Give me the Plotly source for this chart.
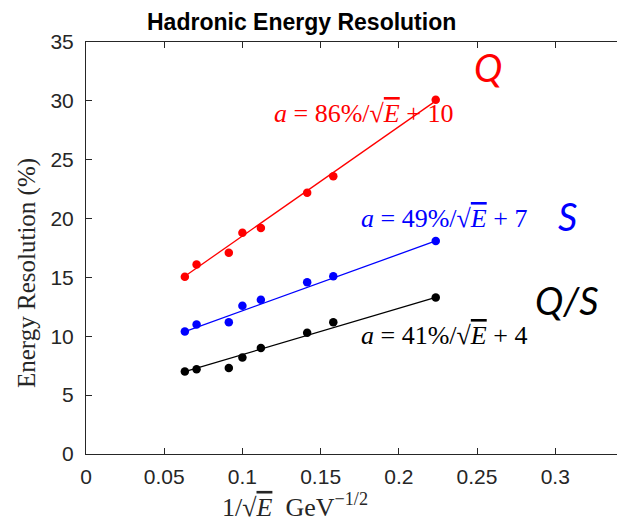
import plotly.graph_objects as go

# ---- data ----
inv_sqrt_e = [0.0632, 0.0707, 0.0913, 0.1, 0.1118, 0.1414, 0.1581, 0.2236]
res_q = [15.05, 16.1, 17.1, 18.8, 19.2, 22.2, 23.6, 30.1]
res_s = [10.4, 11.0, 11.2, 12.6, 13.1, 14.6, 15.1, 18.1]
res_qs = [7.0, 7.2, 7.3, 8.2, 9.0, 10.3, 11.2, 13.3]

fit_x = [0.0632, 0.2236]
fit_q = [15.1, 30.0]
fit_s = [10.4, 18.1]
fit_qs = [7.0, 13.3]

x_ticks = [0, 0.05, 0.1, 0.15, 0.2, 0.25, 0.3]
y_ticks = [0, 5, 10, 15, 20, 25, 30, 35]

series = [
    ("Q", res_q, fit_q, "#ff0000"),
    ("S", res_s, fit_s, "#0000ff"),
    ("Q/S", res_qs, fit_qs, "#000000"),
]

fig = go.Figure()
for name, ys, fy, col in series:
    fig.add_trace(go.Scatter(x=fit_x, y=fy, mode="lines",
                             line=dict(color=col, width=1.3), showlegend=False,
                             hoverinfo="skip"))
    fig.add_trace(go.Scatter(x=inv_sqrt_e, y=ys, mode="markers",
                             marker=dict(color=col, size=8.5), name=name,
                             showlegend=False))

# page body has an 8px margin; compensate so the plot lands where the reference has it
OFF = 8
W, H = 625 - OFF, 521 - OFF
L, R, T, B = 86 - OFF, 0, 42 - OFF, 521 - 454
pw, ph = W - L - R, H - T - B

def px(x):
    return (x - OFF - L) / pw

def py(y):
    return (454 - y) / ph

axis_font = dict(family="Liberation Sans, Arial, sans-serif", size=21, color="#262626")
serif = "Liberation Serif, Times New Roman, serif"

fig.update_layout(
    width=W, height=H,
    margin=dict(l=L, r=R, t=T, b=B),
    plot_bgcolor="white", paper_bgcolor="white",
    xaxis=dict(range=[0, 0.3446], tickvals=x_ticks, ticktext=[str(v) for v in x_ticks],
               ticks="inside", ticklen=6, tickcolor="#262626", showline=True,
               linecolor="#262626", linewidth=1, mirror="ticks", showgrid=False,
               zeroline=False, tickfont=axis_font, ticklabelstandoff=4),
    yaxis=dict(range=[0, 35], tickvals=y_ticks, ticks="inside", ticklen=6,
               tickcolor="#262626", showline=True, linecolor="#262626", linewidth=1,
               mirror=False, showgrid=False, zeroline=False, tickfont=axis_font,
               ticklabelstandoff=7),
)

ann = []
ann.append(dict(text="<b>Hadronic Energy Resolution</b>", x=px(301), y=py(22),
                xref="paper", yref="paper", showarrow=False, xanchor="center", yanchor="middle",
                font=dict(family="Liberation Sans, Arial, sans-serif", size=23, color="black")))
ann.append(dict(text="1/√<span style='text-decoration:overline'><i>E</i></span>  GeV<sup>−1/2</sup>",
                x=px(295), y=py(505),
                xref="paper", yref="paper", showarrow=False, xanchor="center", yanchor="middle",
                font=dict(family=serif, size=26, color="#262626")))
ann.append(dict(text="Energy Resolution (%)", x=px(27), y=py(273), textangle=-90,
                xref="paper", yref="paper", showarrow=False, xanchor="center", yanchor="middle",
                font=dict(family=serif, size=25, color="#262626")))

labels = [
    ("<i>a</i> = 86%/√<span style='text-decoration:overline'><i>E</i></span> + 10", 363.5, 113, "#ff0000"),
    ("<i>a</i> = 49%/√<span style='text-decoration:overline'><i>E</i></span> + 7", 444, 218, "#0000ff"),
    ("<i>a</i> = 41%/√<span style='text-decoration:overline'><i>E</i></span> + 4", 444, 335, "#000000"),
]
for t, x, y, c in labels:
    ann.append(dict(text=t, x=px(x), y=py(y), xref="paper", yref="paper", showarrow=False,
                    xanchor="center", yanchor="middle",
                    font=dict(family=serif, size=26, color=c)))

big = [("Q", 488, 67, "#ff0000"), ("S", 567, 216, "#0000ff"), ("Q/S", 567, 300, "#000000")]
for t, x, y, c in big:
    ann.append(dict(text="<i>" + t + "</i>", x=px(x), y=py(y), xref="paper", yref="paper",
                    showarrow=False, xanchor="center", yanchor="middle",
                    font=dict(family="Lato, Open Sans, sans-serif", size=38, color=c)))

fig.update_layout(annotations=ann)
fig.write_html("out.html")
